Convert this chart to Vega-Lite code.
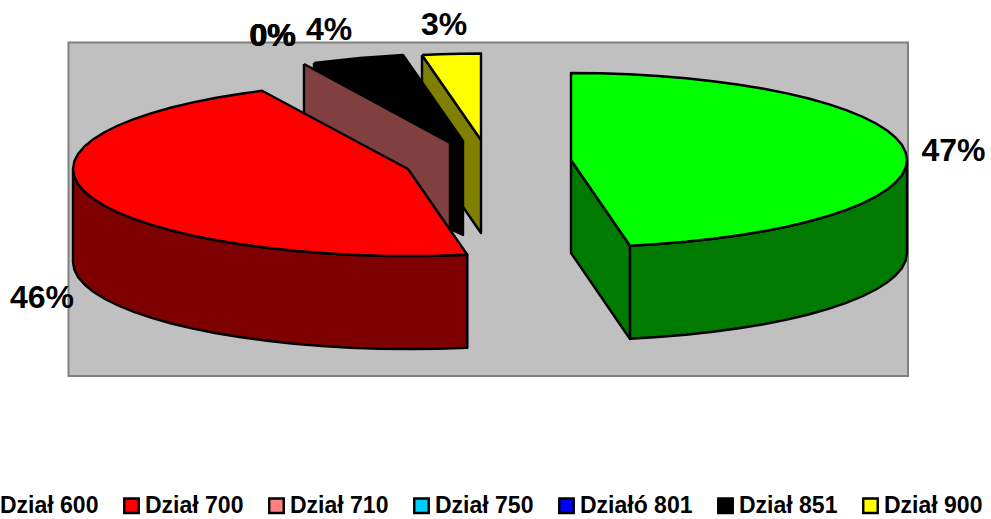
{"$schema":"https://vega.github.io/schema/vega-lite/v6.json","width":991,"height":519,"padding":0,"autosize":"none","background":"white","view":{"stroke":null},
"datasets":{
"plot":[{"x":68.5,"x2":908,"y":42.5,"y2":376}],
"labels":[{"t":"47%","x":953.5,"y":151},{"t":"46%","x":42,"y":298},{"t":"0%","x":272,"y":35.5},{"t":"0%","x":272.6,"y":35.5},{"t":"0%","x":273,"y":35.5},{"t":"4%","x":329,"y":29.5},{"t":"3%","x":444,"y":24.5}],
"shapes":[
{"shape":"a","series":"Dział 900 bok","n":0,"x":422,"y":55},{"shape":"a","series":"Dział 900 bok","n":1,"x":481,"y":140},{"shape":"a","series":"Dział 900 bok","n":2,"x":481,"y":233},{"shape":"a","series":"Dział 900 bok","n":3,"x":422,"y":148},{"shape":"a","series":"Dział 900 bok","n":4,"x":422,"y":55},
{"shape":"b","series":"Dział 900","n":0,"x":422,"y":55},{"shape":"b","series":"Dział 900","n":1,"x":440,"y":54.2},{"shape":"b","series":"Dział 900","n":2,"x":460,"y":53.7},{"shape":"b","series":"Dział 900","n":3,"x":481,"y":53.5},{"shape":"b","series":"Dział 900","n":4,"x":481,"y":140},{"shape":"b","series":"Dział 900","n":5,"x":422,"y":55},
{"shape":"c","series":"Dział 851","n":0,"x":314,"y":63},{"shape":"c","series":"Dział 851","n":1,"x":360,"y":58},{"shape":"c","series":"Dział 851","n":2,"x":403,"y":55},{"shape":"c","series":"Dział 851","n":3,"x":463,"y":141},{"shape":"c","series":"Dział 851","n":4,"x":463,"y":235},{"shape":"c","series":"Dział 851","n":5,"x":450,"y":229},{"shape":"c","series":"Dział 851","n":6,"x":314,"y":150},{"shape":"c","series":"Dział 851","n":7,"x":314,"y":63},
{"shape":"d","series":"Dział 710 bok","n":0,"x":304,"y":64},{"shape":"d","series":"Dział 710 bok","n":1,"x":450,"y":143},{"shape":"d","series":"Dział 710 bok","n":2,"x":450,"y":236},{"shape":"d","series":"Dział 710 bok","n":3,"x":304,"y":157},{"shape":"d","series":"Dział 710 bok","n":4,"x":304,"y":64},
{"shape":"e","series":"Dział 700 bok","n":0,"x":73,"y":169},{"shape":"e","series":"Dział 700 bok","n":1,"x":74.3,"y":176.6},{"shape":"e","series":"Dział 700 bok","n":2,"x":78.1,"y":184.1},{"shape":"e","series":"Dział 700 bok","n":3,"x":84.5,"y":191.5},{"shape":"e","series":"Dział 700 bok","n":4,"x":93.3,"y":198.8},{"shape":"e","series":"Dział 700 bok","n":5,"x":104.5,"y":205.8},{"shape":"e","series":"Dział 700 bok","n":6,"x":118,"y":212.5},{"shape":"e","series":"Dział 700 bok","n":7,"x":133.8,"y":218.9},{"shape":"e","series":"Dział 700 bok","n":8,"x":151.6,"y":224.9},{"shape":"e","series":"Dział 700 bok","n":9,"x":171.4,"y":230.5},{"shape":"e","series":"Dział 700 bok","n":10,"x":193,"y":235.6},{"shape":"e","series":"Dział 700 bok","n":11,"x":216.3,"y":240.3},{"shape":"e","series":"Dział 700 bok","n":12,"x":241,"y":244.3},{"shape":"e","series":"Dział 700 bok","n":13,"x":267,"y":247.8},{"shape":"e","series":"Dział 700 bok","n":14,"x":294.1,"y":250.8},{"shape":"e","series":"Dział 700 bok","n":15,"x":322,"y":253},{"shape":"e","series":"Dział 700 bok","n":16,"x":350.7,"y":254.7},{"shape":"e","series":"Dział 700 bok","n":17,"x":379.7,"y":255.7},{"shape":"e","series":"Dział 700 bok","n":18,"x":409,"y":256},{"shape":"e","series":"Dział 700 bok","n":19,"x":438.3,"y":255.7},{"shape":"e","series":"Dział 700 bok","n":20,"x":467.3,"y":254.7},{"shape":"e","series":"Dział 700 bok","n":21,"x":467.3,"y":347.7},{"shape":"e","series":"Dział 700 bok","n":22,"x":438.3,"y":348.7},{"shape":"e","series":"Dział 700 bok","n":23,"x":409,"y":349},{"shape":"e","series":"Dział 700 bok","n":24,"x":379.7,"y":348.7},{"shape":"e","series":"Dział 700 bok","n":25,"x":350.7,"y":347.7},{"shape":"e","series":"Dział 700 bok","n":26,"x":322,"y":346},{"shape":"e","series":"Dział 700 bok","n":27,"x":294.1,"y":343.8},{"shape":"e","series":"Dział 700 bok","n":28,"x":267,"y":340.8},{"shape":"e","series":"Dział 700 bok","n":29,"x":241,"y":337.3},{"shape":"e","series":"Dział 700 bok","n":30,"x":216.3,"y":333.3},{"shape":"e","series":"Dział 700 bok","n":31,"x":193,"y":328.6},{"shape":"e","series":"Dział 700 bok","n":32,"x":171.4,"y":323.5},{"shape":"e","series":"Dział 700 bok","n":33,"x":151.6,"y":317.9},{"shape":"e","series":"Dział 700 bok","n":34,"x":133.8,"y":311.9},{"shape":"e","series":"Dział 700 bok","n":35,"x":118,"y":305.5},{"shape":"e","series":"Dział 700 bok","n":36,"x":104.5,"y":298.8},{"shape":"e","series":"Dział 700 bok","n":37,"x":93.3,"y":291.8},{"shape":"e","series":"Dział 700 bok","n":38,"x":84.5,"y":284.5},{"shape":"e","series":"Dział 700 bok","n":39,"x":78.1,"y":277.1},{"shape":"e","series":"Dział 700 bok","n":40,"x":74.3,"y":269.6},{"shape":"e","series":"Dział 700 bok","n":41,"x":73,"y":262},{"shape":"e","series":"Dział 700 bok","n":42,"x":73,"y":169},
{"shape":"f","series":"Dział 700","n":0,"x":408,"y":169},{"shape":"f","series":"Dział 700","n":1,"x":262,"y":90.8},{"shape":"f","series":"Dział 700","n":2,"x":241,"y":93.7},{"shape":"f","series":"Dział 700","n":3,"x":216.3,"y":97.7},{"shape":"f","series":"Dział 700","n":4,"x":193,"y":102.4},{"shape":"f","series":"Dział 700","n":5,"x":171.4,"y":107.5},{"shape":"f","series":"Dział 700","n":6,"x":151.6,"y":113.1},{"shape":"f","series":"Dział 700","n":7,"x":133.8,"y":119.1},{"shape":"f","series":"Dział 700","n":8,"x":118,"y":125.5},{"shape":"f","series":"Dział 700","n":9,"x":104.5,"y":132.2},{"shape":"f","series":"Dział 700","n":10,"x":93.3,"y":139.2},{"shape":"f","series":"Dział 700","n":11,"x":84.5,"y":146.5},{"shape":"f","series":"Dział 700","n":12,"x":78.1,"y":153.9},{"shape":"f","series":"Dział 700","n":13,"x":74.3,"y":161.4},{"shape":"f","series":"Dział 700","n":14,"x":73,"y":169},{"shape":"f","series":"Dział 700","n":15,"x":74.3,"y":176.6},{"shape":"f","series":"Dział 700","n":16,"x":78.1,"y":184.1},{"shape":"f","series":"Dział 700","n":17,"x":84.5,"y":191.5},{"shape":"f","series":"Dział 700","n":18,"x":93.3,"y":198.8},{"shape":"f","series":"Dział 700","n":19,"x":104.5,"y":205.8},{"shape":"f","series":"Dział 700","n":20,"x":118,"y":212.5},{"shape":"f","series":"Dział 700","n":21,"x":133.8,"y":218.9},{"shape":"f","series":"Dział 700","n":22,"x":151.6,"y":224.9},{"shape":"f","series":"Dział 700","n":23,"x":171.4,"y":230.5},{"shape":"f","series":"Dział 700","n":24,"x":193,"y":235.6},{"shape":"f","series":"Dział 700","n":25,"x":216.3,"y":240.3},{"shape":"f","series":"Dział 700","n":26,"x":241,"y":244.3},{"shape":"f","series":"Dział 700","n":27,"x":267,"y":247.8},{"shape":"f","series":"Dział 700","n":28,"x":294.1,"y":250.8},{"shape":"f","series":"Dział 700","n":29,"x":322,"y":253},{"shape":"f","series":"Dział 700","n":30,"x":350.7,"y":254.7},{"shape":"f","series":"Dział 700","n":31,"x":379.7,"y":255.7},{"shape":"f","series":"Dział 700","n":32,"x":409,"y":256},{"shape":"f","series":"Dział 700","n":33,"x":438.3,"y":255.7},{"shape":"f","series":"Dział 700","n":34,"x":467.3,"y":254.7},{"shape":"f","series":"Dział 700","n":35,"x":408,"y":169},
{"shape":"g","series":"Dział 600 bok","n":0,"x":571,"y":160},{"shape":"g","series":"Dział 600 bok","n":1,"x":630,"y":246},{"shape":"g","series":"Dział 600 bok","n":2,"x":630,"y":339},{"shape":"g","series":"Dział 600 bok","n":3,"x":571,"y":253},{"shape":"g","series":"Dział 600 bok","n":4,"x":571,"y":160},
{"shape":"h","series":"Dział 600 bok","n":0,"x":907,"y":160},{"shape":"h","series":"Dział 600 bok","n":1,"x":905.7,"y":167.6},{"shape":"h","series":"Dział 600 bok","n":2,"x":901.9,"y":175.1},{"shape":"h","series":"Dział 600 bok","n":3,"x":895.5,"y":182.5},{"shape":"h","series":"Dział 600 bok","n":4,"x":886.7,"y":189.8},{"shape":"h","series":"Dział 600 bok","n":5,"x":875.5,"y":196.8},{"shape":"h","series":"Dział 600 bok","n":6,"x":862,"y":203.5},{"shape":"h","series":"Dział 600 bok","n":7,"x":846.2,"y":209.9},{"shape":"h","series":"Dział 600 bok","n":8,"x":828.4,"y":215.9},{"shape":"h","series":"Dział 600 bok","n":9,"x":808.6,"y":221.5},{"shape":"h","series":"Dział 600 bok","n":10,"x":787,"y":226.6},{"shape":"h","series":"Dział 600 bok","n":11,"x":763.7,"y":231.3},{"shape":"h","series":"Dział 600 bok","n":12,"x":739,"y":235.3},{"shape":"h","series":"Dział 600 bok","n":13,"x":713,"y":238.8},{"shape":"h","series":"Dział 600 bok","n":14,"x":685.9,"y":241.8},{"shape":"h","series":"Dział 600 bok","n":15,"x":658,"y":244},{"shape":"h","series":"Dział 600 bok","n":16,"x":630,"y":245.7},{"shape":"h","series":"Dział 600 bok","n":17,"x":630,"y":338.7},{"shape":"h","series":"Dział 600 bok","n":18,"x":658,"y":337},{"shape":"h","series":"Dział 600 bok","n":19,"x":685.9,"y":334.8},{"shape":"h","series":"Dział 600 bok","n":20,"x":713,"y":331.8},{"shape":"h","series":"Dział 600 bok","n":21,"x":739,"y":328.3},{"shape":"h","series":"Dział 600 bok","n":22,"x":763.7,"y":324.3},{"shape":"h","series":"Dział 600 bok","n":23,"x":787,"y":319.6},{"shape":"h","series":"Dział 600 bok","n":24,"x":808.6,"y":314.5},{"shape":"h","series":"Dział 600 bok","n":25,"x":828.4,"y":308.9},{"shape":"h","series":"Dział 600 bok","n":26,"x":846.2,"y":302.9},{"shape":"h","series":"Dział 600 bok","n":27,"x":862,"y":296.5},{"shape":"h","series":"Dział 600 bok","n":28,"x":875.5,"y":289.8},{"shape":"h","series":"Dział 600 bok","n":29,"x":886.7,"y":282.8},{"shape":"h","series":"Dział 600 bok","n":30,"x":895.5,"y":275.5},{"shape":"h","series":"Dział 600 bok","n":31,"x":901.9,"y":268.1},{"shape":"h","series":"Dział 600 bok","n":32,"x":905.7,"y":260.6},{"shape":"h","series":"Dział 600 bok","n":33,"x":907,"y":253},{"shape":"h","series":"Dział 600 bok","n":34,"x":907,"y":160},
{"shape":"i","series":"Dział 600","n":0,"x":571,"y":160},{"shape":"i","series":"Dział 600","n":1,"x":571,"y":73},{"shape":"i","series":"Dział 600","n":2,"x":600.3,"y":73.3},{"shape":"i","series":"Dział 600","n":3,"x":629.3,"y":74.3},{"shape":"i","series":"Dział 600","n":4,"x":658,"y":76},{"shape":"i","series":"Dział 600","n":5,"x":685.9,"y":78.2},{"shape":"i","series":"Dział 600","n":6,"x":713,"y":81.2},{"shape":"i","series":"Dział 600","n":7,"x":739,"y":84.7},{"shape":"i","series":"Dział 600","n":8,"x":763.7,"y":88.7},{"shape":"i","series":"Dział 600","n":9,"x":787,"y":93.4},{"shape":"i","series":"Dział 600","n":10,"x":808.6,"y":98.5},{"shape":"i","series":"Dział 600","n":11,"x":828.4,"y":104.1},{"shape":"i","series":"Dział 600","n":12,"x":846.2,"y":110.1},{"shape":"i","series":"Dział 600","n":13,"x":862,"y":116.5},{"shape":"i","series":"Dział 600","n":14,"x":875.5,"y":123.2},{"shape":"i","series":"Dział 600","n":15,"x":886.7,"y":130.2},{"shape":"i","series":"Dział 600","n":16,"x":895.5,"y":137.5},{"shape":"i","series":"Dział 600","n":17,"x":901.9,"y":144.9},{"shape":"i","series":"Dział 600","n":18,"x":905.7,"y":152.4},{"shape":"i","series":"Dział 600","n":19,"x":907,"y":160},{"shape":"i","series":"Dział 600","n":20,"x":905.7,"y":167.6},{"shape":"i","series":"Dział 600","n":21,"x":901.9,"y":175.1},{"shape":"i","series":"Dział 600","n":22,"x":895.5,"y":182.5},{"shape":"i","series":"Dział 600","n":23,"x":886.7,"y":189.8},{"shape":"i","series":"Dział 600","n":24,"x":875.5,"y":196.8},{"shape":"i","series":"Dział 600","n":25,"x":862,"y":203.5},{"shape":"i","series":"Dział 600","n":26,"x":846.2,"y":209.9},{"shape":"i","series":"Dział 600","n":27,"x":828.4,"y":215.9},{"shape":"i","series":"Dział 600","n":28,"x":808.6,"y":221.5},{"shape":"i","series":"Dział 600","n":29,"x":787,"y":226.6},{"shape":"i","series":"Dział 600","n":30,"x":763.7,"y":231.3},{"shape":"i","series":"Dział 600","n":31,"x":739,"y":235.3},{"shape":"i","series":"Dział 600","n":32,"x":713,"y":238.8},{"shape":"i","series":"Dział 600","n":33,"x":685.9,"y":241.8},{"shape":"i","series":"Dział 600","n":34,"x":658,"y":244},{"shape":"i","series":"Dział 600","n":35,"x":630,"y":245.7},{"shape":"i","series":"Dział 600","n":36,"x":571,"y":160}
]},
"layer":[
{"data":{"name":"plot"},"mark":{"type":"rect","fill":"#C0C0C0","stroke":"#808080","strokeWidth":2},
"encoding":{"x":{"field":"x","type":"quantitative","scale":{"domain":[0,991]},"axis":null},"x2":{"field":"x2"},"y":{"field":"y","type":"quantitative","scale":{"domain":[519,0]},"axis":null},"y2":{"field":"y2"}}},
{"data":{"name":"shapes"},"mark":{"type":"line","stroke":"black","strokeWidth":2.4,"strokeJoin":"round"},
"encoding":{"x":{"field":"x","type":"quantitative","scale":{"domain":[0,991]},"axis":null},"y":{"field":"y","type":"quantitative","scale":{"domain":[519,0]},"axis":null},"order":{"field":"n","type":"quantitative"},"detail":{"field":"shape"},
"fill":{"field":"series","type":"nominal","sort":null,"scale":{"domain":["Dział 600","Dział 700","Dział 710","Dział 750","Działó 801","Dział 851","Dział 900","Dział 600 bok","Dział 700 bok","Dział 710 bok","Dział 900 bok"],"range":["#00FF00","#FF0000","#FF8080","#00CCFF","#0000FF","#000000","#FFFF00","#007A00","#7F0000","#804040","#808000"]},
"legend":{"values":["Dział 600","Dział 700","Dział 710","Dział 750","Działó 801","Dział 851","Dział 900"],"title":null,"orient":"none","legendX":-25,"legendY":494,"direction":"horizontal","columns":7,"columnPadding":20,"symbolType":"square","symbolSize":210,"symbolStrokeColor":"black","symbolStrokeWidth":2.4,"symbolOpacity":1,"labelOffset":2,"labelFont":"Liberation Sans","labelFontWeight":"bold","labelFontSize":23,"labelColor":"black","labelLimit":300}}}},
{"data":{"name":"labels"},"mark":{"type":"text","font":"Liberation Sans","fontWeight":"bold","fontSize":32,"color":"black","baseline":"middle","align":"center"},
"encoding":{"x":{"field":"x","type":"quantitative","scale":{"domain":[0,991]},"axis":null},"y":{"field":"y","type":"quantitative","scale":{"domain":[519,0]},"axis":null},"text":{"field":"t"}}}
]}
